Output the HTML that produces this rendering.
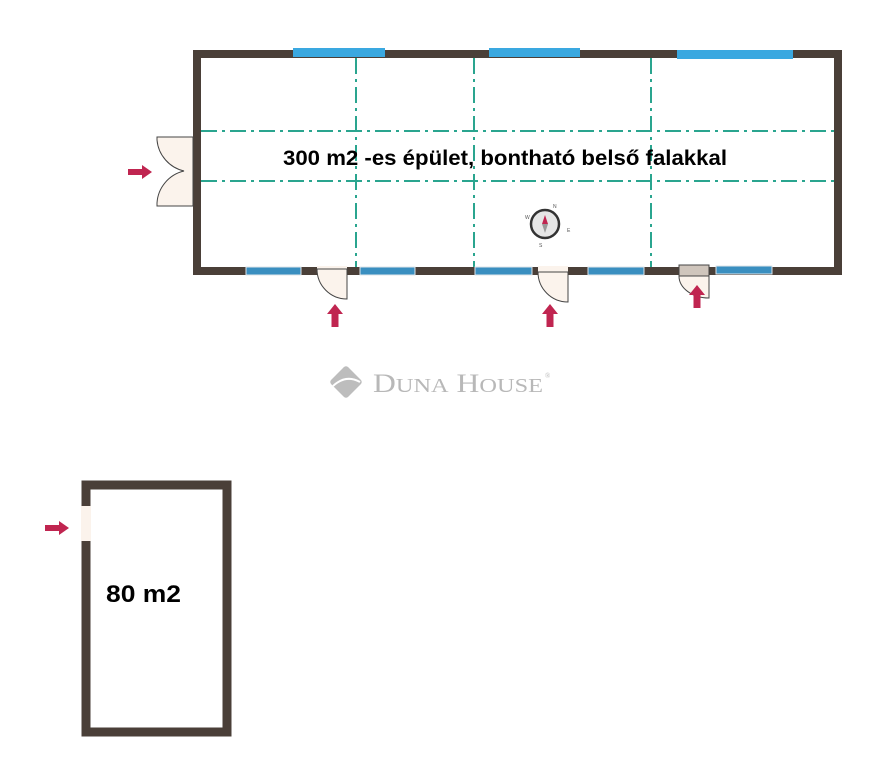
<!DOCTYPE html>
<html><head><meta charset="utf-8"><style>
html,body{margin:0;padding:0;background:#fff;width:878px;height:768px;overflow:hidden}
</style></head><body>
<svg width="878" height="768" viewBox="0 0 878 768" xmlns="http://www.w3.org/2000/svg">
<defs>
<g id="arrUp"><polygon points="0,-12 8,-2 3.5,-2 3.5,11 -3.5,11 -3.5,-2 -8,-2" fill="#c02550"/></g>
<g id="arrR"><polygon points="12,0 2,-7 2,-3 -12,-3 -12,3 2,3 2,7" fill="#c02550"/></g>
</defs>
<g stroke="#2aa58f" stroke-width="2" stroke-dasharray="16,5,3,5" fill="none">
<line x1="356" y1="58" x2="356" y2="268"/>
<line x1="474" y1="58" x2="474" y2="268"/>
<line x1="651" y1="58" x2="651" y2="268"/>
<line x1="201" y1="131" x2="834" y2="131"/>
<line x1="201" y1="181" x2="834" y2="181"/>
</g>
<rect x="197" y="54" width="641" height="217" fill="none" stroke="#4a3f38" stroke-width="8"/>
<g fill="#3aa8e0">
<rect x="293" y="48" width="92" height="9"/>
<rect x="489" y="48" width="91" height="9"/>
<rect x="677" y="50" width="116" height="9"/>
</g>
<g fill="#3a8fc0" stroke="#dfe6ea" stroke-width="1">
<rect x="246" y="267" width="55" height="8"/>
<rect x="360" y="267" width="55" height="8"/>
<rect x="475" y="267" width="57" height="8"/>
<rect x="588" y="267" width="56" height="8"/>
<rect x="716" y="266" width="56" height="8"/>
</g>
<g fill="#fbf3ec" stroke="#444" stroke-width="1">
<rect x="317" y="266" width="30" height="10" fill="#fbf3ec" stroke="none"/>
<path d="M317,269 A30,30 0 0 0 347,299 L347,269 Z"/>
<rect x="538" y="266" width="30" height="10" stroke="none"/>
<path d="M538,272 A30,30 0 0 0 568,302 L568,272 Z"/>
<rect x="679" y="265" width="30" height="11" fill="#cfc5bc"/>
<path d="M679,276 A30,22 0 0 0 709,298 L709,276 Z"/>
</g>
<g fill="#fbf3ec" stroke="#444" stroke-width="1">
<path d="M193,137 L157,137 L157,140 A35,35 0 0 0 184,171 A35,35 0 0 0 157,203 L157,206 L193,206 Z"/>
</g>
<use href="#arrR" x="140" y="172"/>
<use href="#arrUp" x="335" y="316"/>
<use href="#arrUp" x="550" y="316"/>
<use href="#arrUp" x="697" y="297"/>
<use href="#arrR" x="57" y="528"/>
<g transform="translate(545,224)">
<circle r="14" fill="#e6e6e6" stroke="#333" stroke-width="2.5"/>
<polygon points="0,-9 3,0 -3,0" fill="#c02550"/>
<polygon points="0,9 3,0 -3,0" fill="#999"/>
<text x="-20" y="-5" font-size="5" font-family="Liberation Sans" fill="#555">W</text>
<text x="8" y="-16" font-size="5" font-family="Liberation Sans" fill="#555">N</text>
<text x="22" y="8" font-size="5" font-family="Liberation Sans" fill="#555">E</text>
<text x="-6" y="23" font-size="5" font-family="Liberation Sans" fill="#555">S</text>
</g>
<text x="505" y="165" text-anchor="middle" font-family="Liberation Sans, sans-serif" font-weight="bold" font-size="21.5" fill="#000" textLength="444" lengthAdjust="spacingAndGlyphs">300 m2 -es épület, bontható belső falakkal</text>
<g transform="translate(346,382) rotate(45)"><rect x="-12" y="-12" width="24" height="24" rx="3" fill="#bdbdbd"/></g>
<path d="M333,386 Q346,374 360,382" stroke="#fff" stroke-width="2" fill="none"/>
<text x="373" y="392" font-family="Liberation Serif, serif" font-size="26" fill="#b8b8b8" textLength="170" lengthAdjust="spacingAndGlyphs">D<tspan font-size="20">UNA</tspan> H<tspan font-size="20">OUSE</tspan></text>
<text x="545" y="378" font-family="Liberation Serif, serif" font-size="7" fill="#b8b8b8">®</text>
<rect x="86" y="485" width="141" height="247" fill="none" stroke="#4a3f38" stroke-width="9"/>
<rect x="81" y="506" width="10" height="35" fill="#fbf3ec"/>
<text x="106" y="602" font-family="Liberation Sans, sans-serif" font-weight="bold" font-size="24" fill="#000" textLength="75" lengthAdjust="spacingAndGlyphs">80 m2</text>
</svg>
</body></html>
